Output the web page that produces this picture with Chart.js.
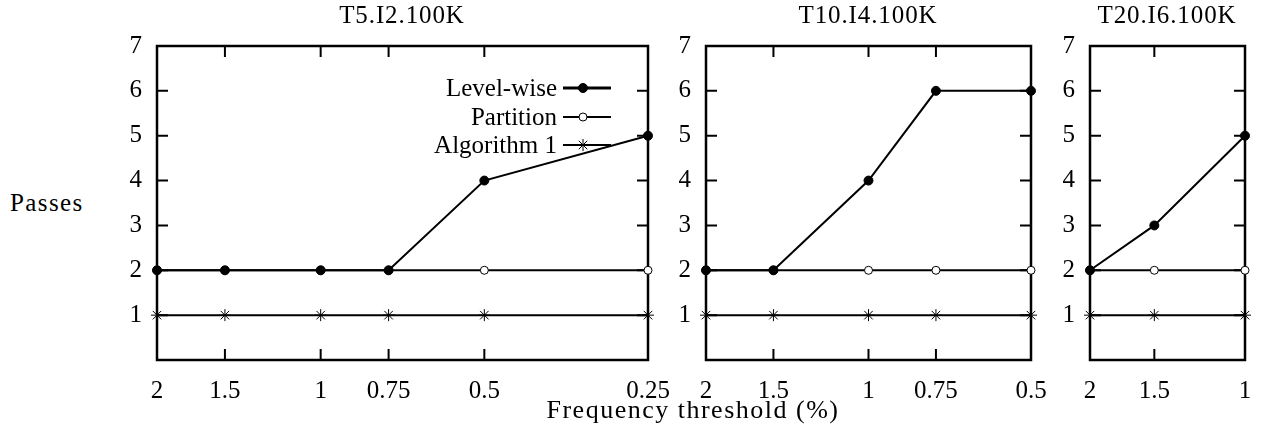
<!DOCTYPE html>
<html>
<head>
<meta charset="utf-8">
<script src="https://cdn.jsdelivr.net/npm/chart.js@4/dist/chart.umd.min.js"></script>
<style>
  body { margin: 0; background: #fff; }
  #wrap { position: relative; width: 1263px; height: 436px; overflow: hidden; }
  canvas { position: absolute; top: 0; }
  .txt {
    position: absolute;
    font-family: "Liberation Serif", "DejaVu Serif", serif;
    font-size: 25px;
    line-height: 25px;
    color: #000;
    white-space: nowrap;
  }
  .title { width: 300px; text-align: center; top: 2px; letter-spacing: 0.9px; }
</style>
</head>
<body>
<div id="wrap">
  <canvas id="c1"></canvas>
  <canvas id="c2"></canvas>
  <canvas id="c3"></canvas>
  <div class="txt title" style="left:252px">T5.I2.100K</div>
  <div class="txt title" style="left:718px">T10.I4.100K</div>
  <div class="txt title" style="left:1017px">T20.I6.100K</div>
  <div class="txt" style="left:10px; top:190px; letter-spacing:1.4px">Passes</div>
  <div class="txt" style="left:393px; top:397px; width:600px; text-align:center; font-size:26px; line-height:26px; letter-spacing:1.5px">Frequency threshold (%)</div>
</div>
<script>
// Data per panel (frequency threshold %, number of passes)
const labels = ['Level-wise', 'Partition', 'Algorithm 1'];

const x1 = [2, 1.5, 1, 0.75, 0.5, 0.25];
const levelwise1 = [2, 2, 2, 2, 4, 5];
const partition1 = [2, 2, 2, 2, 2, 2];
const algo1 = [1, 1, 1, 1, 1, 1];

const x2 = [2, 1.5, 1, 0.75, 0.5];
const levelwise2 = [2, 2, 4, 6, 6];
const partition2 = [2, 2, 2, 2, 2];
const algo2 = [1, 1, 1, 1, 1];

const x3 = [2, 1.5, 1];
const levelwise3 = [2, 3, 5];
const partition3 = [2, 2, 2];
const algo3 = [1, 1, 1];

const yTicks = [0, 1, 2, 3, 4, 5, 6, 7];

const FONT = { family: '"Liberation Serif", "DejaVu Serif", serif', size: 25 };
const PLOT_TOP = 46, PLOT_BOTTOM = 360, Y_AXIS_W = 60, X_AXIS_H = 50, PAD_R = 28;

// frame + inward tick marks on all four sides
const frameTicks = {
    id: 'frameTicks',
    beforeDatasetsDraw(chart) {
        const ctx = chart.ctx;
        const a = chart.chartArea;
        const xs = chart.scales.x, ys = chart.scales.y;
        ctx.save();
        ctx.strokeStyle = '#000';
        ctx.lineWidth = 2.5;
        ctx.strokeRect(a.left, a.top, a.right - a.left, a.bottom - a.top);
        ctx.lineWidth = 2;
        ctx.beginPath();
        xs.ticks.forEach(t => {
            const px = xs.getPixelForValue(t.value);
            if (Math.abs(px - a.left) < 2 || Math.abs(px - a.right) < 2) return;
            ctx.moveTo(px, a.bottom); ctx.lineTo(px, a.bottom - 11);
            ctx.moveTo(px, a.top); ctx.lineTo(px, a.top + 11);
        });
        ys.ticks.forEach(t => {
            const py = ys.getPixelForValue(t.value);
            if (Math.abs(py - a.top) < 2 || Math.abs(py - a.bottom) < 2) return;
            ctx.moveTo(a.left, py); ctx.lineTo(a.left + 11, py);
            ctx.moveTo(a.right, py); ctx.lineTo(a.right - 11, py);
        });
        ctx.stroke();
        ctx.restore();
    }
};

// gnuplot-style legend: text on the left, line sample + marker on the right
const insideLegend = {
    id: 'insideLegend',
    afterDatasetsDraw(chart, args, opts) {
        if (!opts.show) return;
        const ctx = chart.ctx;
        const a = chart.chartArea;
        const rows = [42, 71, 99];
        const sampleW = [3, 2, 2];
        ctx.save();
        ctx.font = FONT.size + 'px ' + FONT.family;
        ctx.textAlign = 'right';
        ctx.textBaseline = 'middle';
        chart.data.datasets.forEach((ds, i) => {
            const y = a.top + rows[i];
            const xr = a.right - 91;
            ctx.fillStyle = '#000';
            ctx.fillText(ds.label, xr, y + 1);
            ctx.strokeStyle = '#000';
            ctx.lineWidth = sampleW[i];
            ctx.beginPath();
            ctx.moveTo(xr + 6, y);
            ctx.lineTo(xr + 54, y);
            ctx.stroke();
            ctx.lineWidth = ds.pointBorderWidth;
            ctx.fillStyle = ds.pointBackgroundColor;
            Chart.helpers.drawPoint(ctx, {
                pointStyle: ds.pointStyle,
                radius: ds.pointRadius,
                borderWidth: ds.pointBorderWidth,
                rotation: 0
            }, xr + 26, y);
        });
        ctx.restore();
    }
};

function series(xs, ys) {
    return xs.map((x, i) => ({ x: x, y: ys[i] }));
}

function makePanel(id, plotLeft, plotRight, xs, lw, pt, al, showLegend) {
    const canvas = document.getElementById(id);
    const w = plotRight - plotLeft + Y_AXIS_W + PAD_R;
    canvas.width = w;
    canvas.height = 436;
    canvas.style.left = (plotLeft - Y_AXIS_W) + 'px';

    new Chart(canvas, {
        type: 'line',
        data: {
            datasets: [
                {
                    label: labels[0], data: series(xs, lw),
                    borderColor: '#000', borderWidth: 2,
                    pointStyle: 'circle', pointRadius: 4.5,
                    pointBackgroundColor: '#000', pointBorderColor: '#000', pointBorderWidth: 1,
                    clip: false
                },
                {
                    label: labels[1], data: series(xs, pt),
                    borderColor: '#000', borderWidth: 2,
                    pointStyle: 'circle', pointRadius: 4,
                    pointBackgroundColor: '#fff', pointBorderColor: '#000', pointBorderWidth: 1,
                    clip: false
                },
                {
                    label: labels[2], data: series(xs, al),
                    borderColor: '#000', borderWidth: 2,
                    pointStyle: 'star', pointRadius: 6,
                    pointBackgroundColor: '#000', pointBorderColor: '#000', pointBorderWidth: 1,
                    clip: false
                }
            ]
        },
        options: {
            responsive: false,
            animation: false,
            events: [],
            layout: { padding: { top: PLOT_TOP, right: PAD_R, bottom: 436 - PLOT_BOTTOM - X_AXIS_H, left: 0 } },
            elements: { line: { tension: 0 } },
            plugins: {
                legend: { display: false },
                tooltip: { enabled: false },
                insideLegend: { show: showLegend }
            },
            scales: {
                x: {
                    type: 'logarithmic',
                    reverse: true,
                    min: xs[xs.length - 1],
                    max: xs[0],
                    grid: { display: false, drawTicks: false },
                    border: { display: false },
                    afterBuildTicks: axis => { axis.ticks = xs.map(v => ({ value: v })); },
                    afterFit: axis => {
                        axis.height = X_AXIS_H;
                        axis.paddingLeft = 0;
                        axis.paddingRight = 0;
                    },
                    ticks: {
                        autoSkip: false, maxRotation: 0, padding: 16,
                        color: '#000', font: FONT,
                        callback: v => String(v)
                    }
                },
                y: {
                    min: 0, max: 7,
                    grid: { display: false, drawTicks: false },
                    border: { display: false },
                    afterBuildTicks: axis => { axis.ticks = yTicks.map(v => ({ value: v })); },
                    afterFit: axis => {
                        axis.width = Y_AXIS_W;
                        axis.paddingTop = 0;
                        axis.paddingBottom = 0;
                    },
                    ticks: {
                        padding: 15, color: '#000', font: FONT,
                        callback: v => (v === 0 ? '' : String(v))
                    }
                }
            }
        },
        plugins: [frameTicks, insideLegend]
    });
}

makePanel('c1', 157, 648, x1, levelwise1, partition1, algo1, true);
makePanel('c2', 706, 1031, x2, levelwise2, partition2, algo2, false);
makePanel('c3', 1090, 1245, x3, levelwise3, partition3, algo3, false);
</script>
</body>
</html>
